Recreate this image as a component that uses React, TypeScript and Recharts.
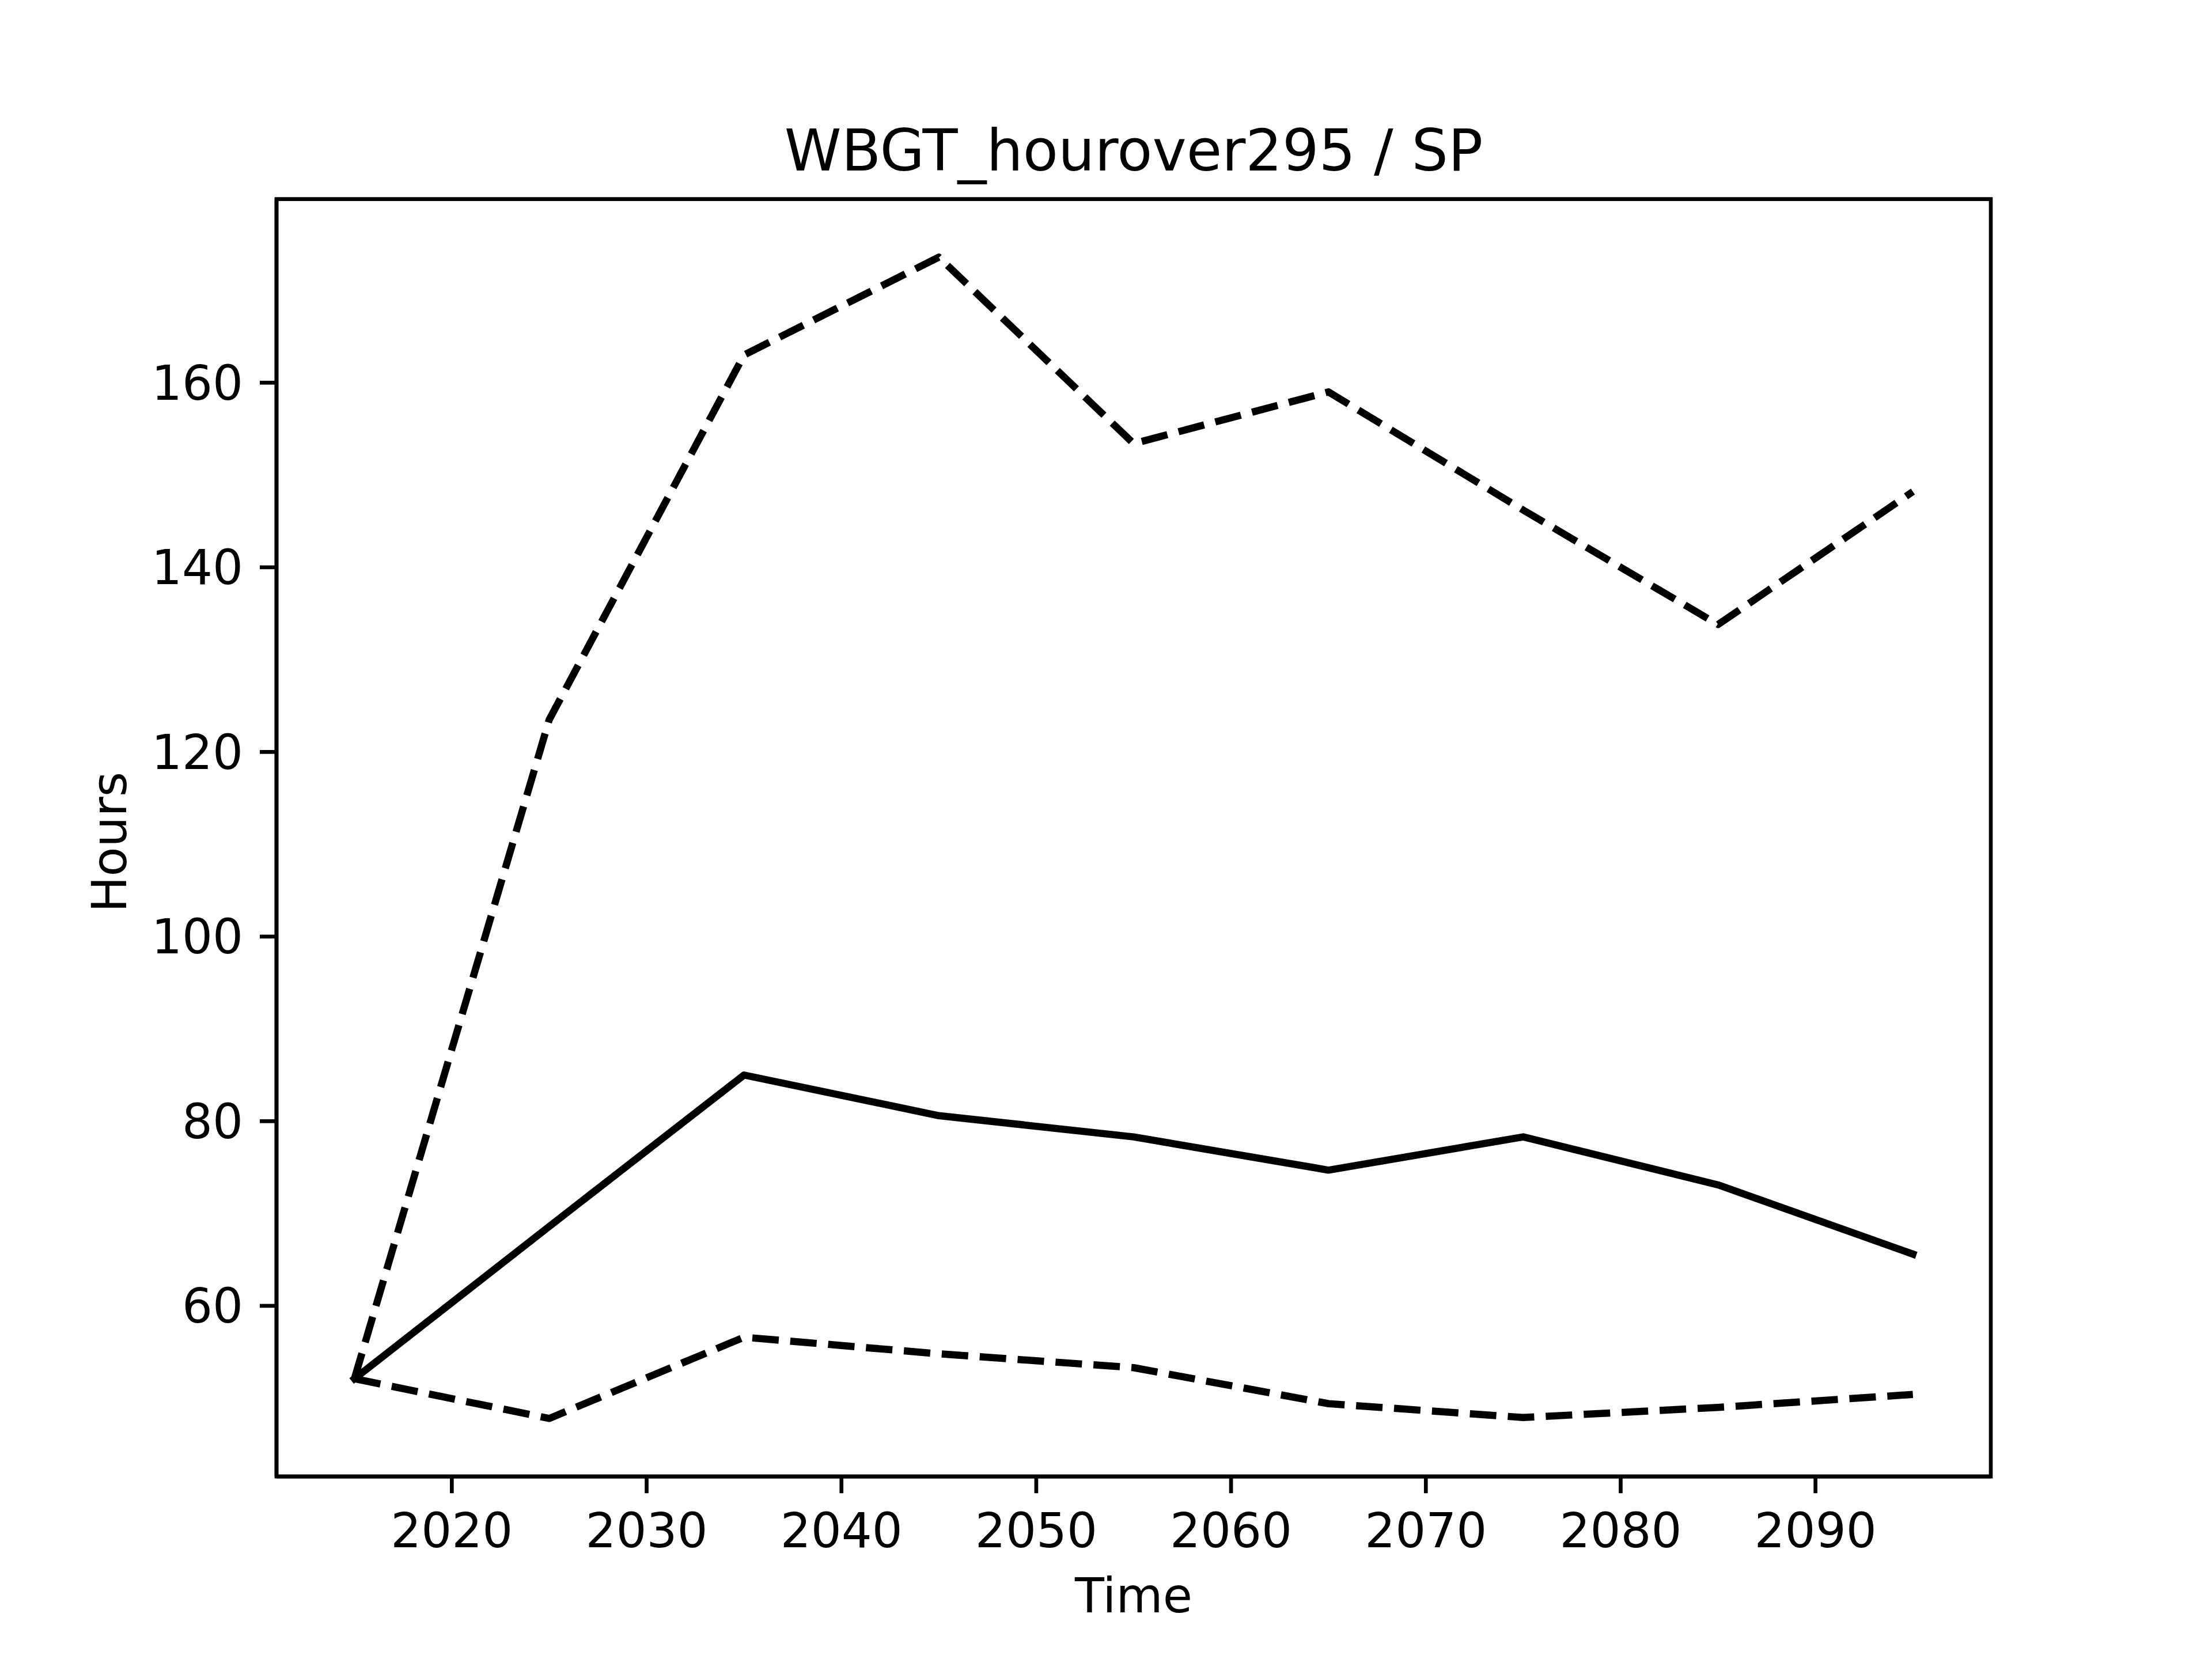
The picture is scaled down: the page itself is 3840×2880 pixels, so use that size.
import { LineChart, Line, XAxis, YAxis, ReferenceArea } from 'recharts'

// values
const years = [2015, 2025, 2035, 2045, 2055, 2065, 2075, 2085, 2095]
const meanHours = [52.1, 68.6, 85.0, 80.6, 78.3, 74.7, 78.3, 73.1, 65.6]
const upperHours = [52.1, 123.5, 163.0, 173.6, 153.4, 159.0, 146.2, 133.8, 148.2]
const lowerHours = [52.1, 47.8, 56.6, 54.8, 53.3, 49.4, 47.9, 49.0, 50.4]

const xTicks = [2020, 2030, 2040, 2050, 2060, 2070, 2080, 2090]
const yTicks = [60, 80, 100, 120, 140, 160]

const title = 'WBGT_hourover295 / SP'
const xLabel = 'Time'
const yLabel = 'Hours'

const data = years.map((year, i) => ({
  year,
  mean: meanHours[i],
  upper: upperHours[i],
  lower: lowerHours[i],
}))

// matplotlib-style 5% padding around the data
const all = [...meanHours, ...upperHours, ...lowerHours]
const yMin = Math.min(...all)
const yMax = Math.max(...all)
const yPad = (yMax - yMin) * 0.05
const yDomain: [number, number] = [yMin - yPad, yMax + yPad]
const xPad = (years[years.length - 1] - years[0]) * 0.05
const xDomain: [number, number] = [years[0] - xPad, years[years.length - 1] + xPad]

const W = 3840
const H = 2880
const left = 480
const right = 3456
const top = 345.6
const bottom = 2563.2
const yAxisW = 200
const xAxisH = 100

const font = 'DejaVu Sans'
const fs = 83.33
const lw = 12.5
const spine = 6.67

export default function App() {
  return (
    <div style={{ position: 'absolute', left: 0, top: 0, width: W, height: H, background: '#fff' }}>
      <LineChart
        width={W}
        height={H}
        data={data}
        margin={{ top, right: W - right, bottom: H - bottom - xAxisH, left: left - yAxisW }}
      >
        <XAxis
          dataKey="year"
          type="number"
          domain={xDomain}
          ticks={xTicks}
          height={xAxisH}
          tickSize={29}
          tickMargin={35}
          tick={{ fontSize: fs, fontFamily: font, fill: '#000' }}
          tickLine={{ stroke: '#000', strokeWidth: spine }}
          axisLine={{ stroke: '#000', strokeWidth: spine }}
        />
        <YAxis
          type="number"
          domain={yDomain}
          ticks={yTicks}
          width={yAxisW}
          tickSize={29}
          tickMargin={29}
          tick={{ fontSize: fs, fontFamily: font, fill: '#000' }}
          tickLine={{ stroke: '#000', strokeWidth: spine }}
          axisLine={{ stroke: '#000', strokeWidth: spine }}
        />
        <ReferenceArea
          x1={xDomain[0]}
          x2={xDomain[1]}
          y1={yDomain[0]}
          y2={yDomain[1]}
          fill="none"
          fillOpacity={0}
          stroke="#000"
          strokeWidth={spine}
        />
        <Line
          dataKey="mean"
          type="linear"
          stroke="#000"
          strokeWidth={lw}
          strokeLinecap="square"
          strokeLinejoin="round"
          dot={false}
          activeDot={false}
          isAnimationActive={false}
        />
        <Line
          dataKey="upper"
          type="linear"
          stroke="#000"
          strokeWidth={lw}
          strokeDasharray="46 20"
          strokeLinejoin="round"
          dot={false}
          activeDot={false}
          isAnimationActive={false}
        />
        <Line
          dataKey="lower"
          type="linear"
          stroke="#000"
          strokeWidth={lw}
          strokeDasharray="46 20"
          strokeLinejoin="round"
          dot={false}
          activeDot={false}
          isAnimationActive={false}
        />
      </LineChart>

      {/* title and axis labels */}
      <svg
        width={W}
        height={H}
        style={{ position: 'absolute', left: 0, top: 0, pointerEvents: 'none' }}
        fontFamily={font}
      >
        <text x={(left + right) / 2} y={296} textAnchor="middle" fontSize={100} fill="#000">
          {title}
        </text>
        <text x={(left + right) / 2} y={2799} textAnchor="middle" fontSize={fs} fill="#000">
          {xLabel}
        </text>
        <text
          x={0}
          y={0}
          transform={`translate(219, 1462) rotate(-90)`}
          textAnchor="middle"
          fontSize={fs}
          fill="#000"
        >
          {yLabel}
        </text>
      </svg>
    </div>
  )
}
